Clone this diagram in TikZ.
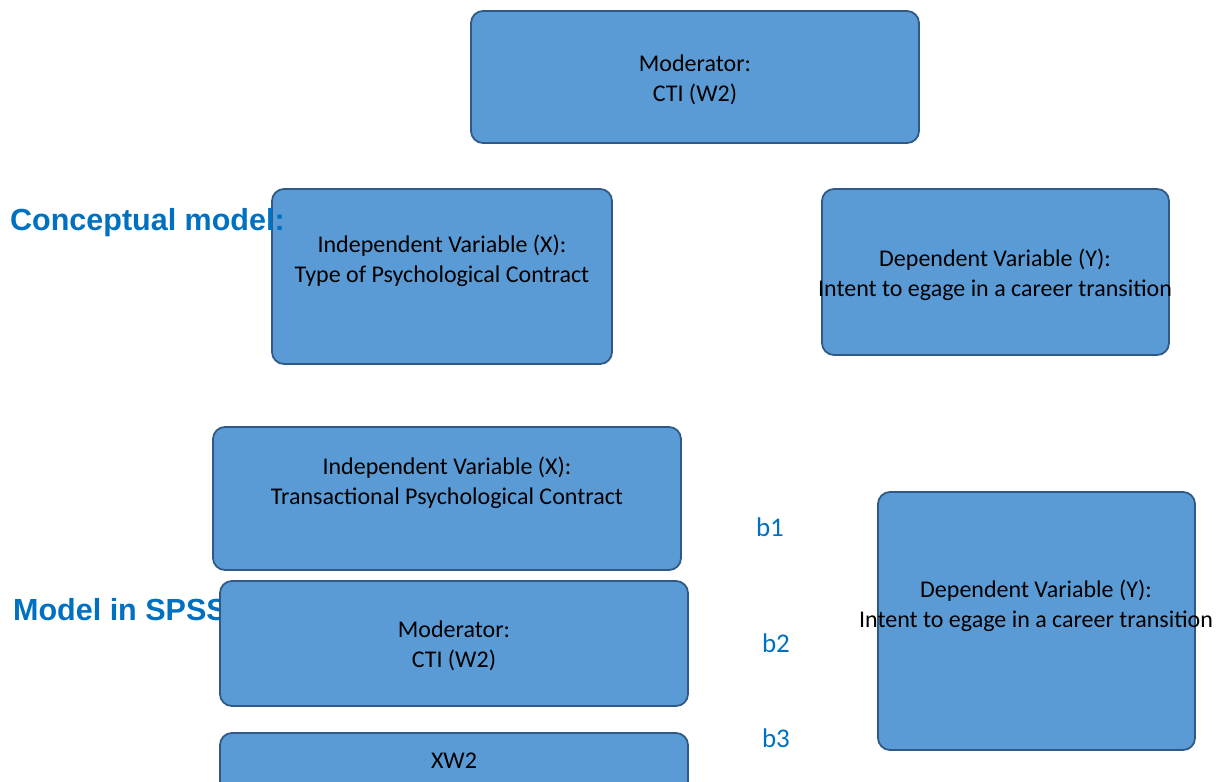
\documentclass[tikz,border=0pt]{standalone}
\usepackage{fontspec}
\setmainfont{Carlito}
\newfontfamily\headfont{Liberation Sans}
\definecolor{boxfill}{HTML}{5B9BD5}
\definecolor{boxline}{HTML}{2F5A87}
\definecolor{headblue}{HTML}{0070C0}
\begin{document}
\begin{tikzpicture}[x=1pt,y=-1pt,
  vbox/.style={draw=boxline,fill=boxfill,line width=1.8pt,rounded corners=12pt,rectangle},
  btext/.style={font=\fontsize{24}{30}\selectfont,align=center,text=black,inner sep=0pt},
  head/.style={font=\headfont\bfseries\fontsize{30.5}{34}\selectfont,text=headblue,anchor=base west,inner sep=0pt},
  coef/.style={font=\fontsize{27}{30}\selectfont,text=headblue,inner sep=0pt}]
\useasboundingbox (0,0) rectangle (1232,782);
% conceptual model
\draw[vbox] (471,11) rectangle (919,143) node[midway] (modc) {};
\node[btext] (modct) at (695,80) {Moderator:\\CTI (W2)};
\draw[vbox] (272,189) rectangle (612,364) node[midway] (ivc) {};
\node[head] (hc) at (10,230) {Conceptual model:};
\node[btext] (ivct) at (442,261) {Independent Variable (X):\\Type of Psychological Contract};
\draw[vbox] (822,189) rectangle (1169,355) node[midway] (dvc) {};
\node[btext] (dvct) at (995,275) {Dependent Variable (Y):\\Intent to egage in a career transition};
% SPSS model
\node[head] (hs) at (13,620) {Model in SPSS};
\draw[vbox] (213,427) rectangle (681,570) node[midway] (ivs) {};
\node[btext] (ivst) at (447,483) {Independent Variable (X):\\Transactional Psychological Contract};
\draw[vbox] (220,581) rectangle (688,706) node[midway] (mods) {};
\node[btext] (modst) at (454,646) {Moderator:\\CTI (W2)};
\draw[vbox] (220,733) rectangle (688,800) node[midway] (xw) {};
\node[btext] (xwt) at (454,761) {XW2};
\draw[vbox] (878,492) rectangle (1195,750) node[midway] (dvs) {};
\node[btext] (dvst) at (1036,606) {Dependent Variable (Y):\\Intent to egage in a career transition};
\node[coef] (b1) at (770,527) {b1};
\node[coef] (b2) at (776,643) {b2};
\node[coef] (b3) at (776,738) {b3};
\end{tikzpicture}
\end{document}
